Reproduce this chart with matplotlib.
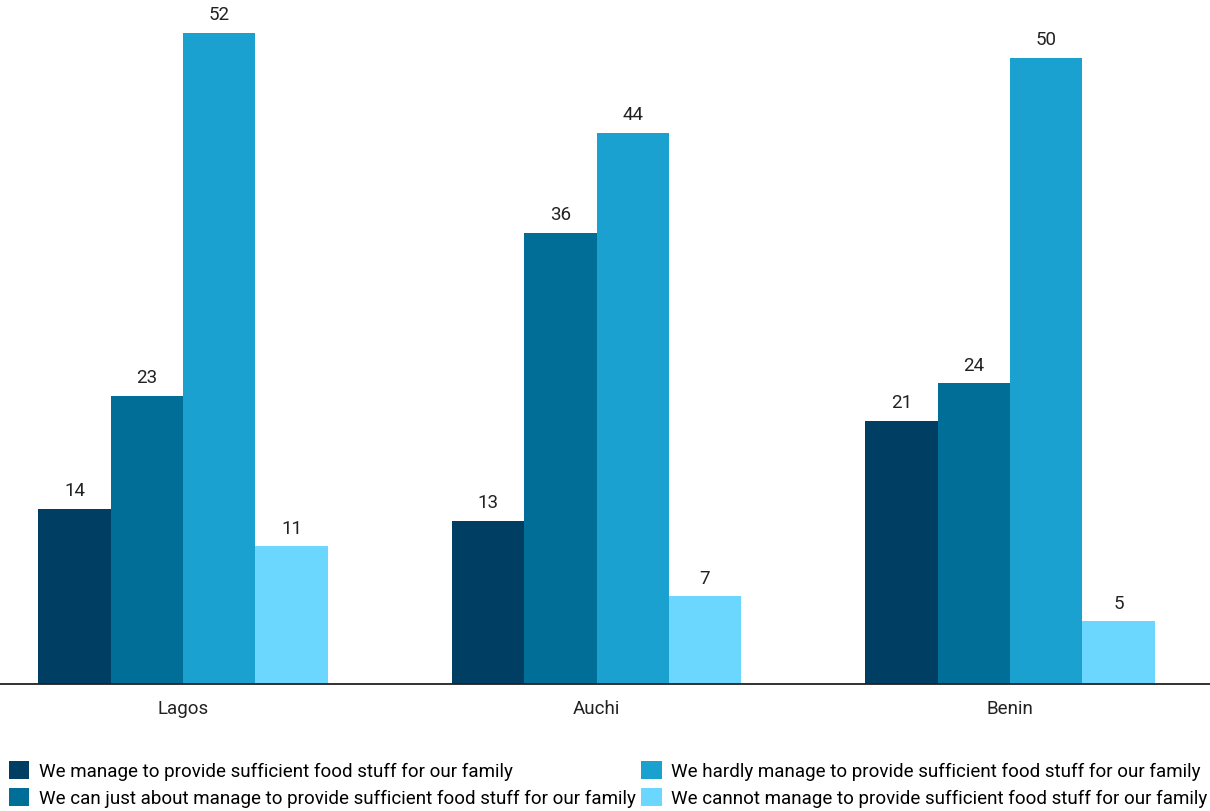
import numpy as np
from matplotlib import pyplot as plt

plt.rcParams['font.family'] = ['Roboto', 'DejaVu Sans']

cities = ['Lagos', 'Auchi', 'Benin']
series = [
    'We manage to provide sufficient food stuff for our family',
    'We can just about manage to provide sufficient food stuff for our family',
    'We hardly manage to provide sufficient food stuff for our family',
    'We cannot manage to provide sufficient food stuff for our family',
]
manage = [14, 13, 21]
just_about = [23, 36, 24]
hardly = [52, 44, 50]
cannot = [11, 7, 5]
colors = ['#003f63', '#006e97', '#1aa1cf', '#6bd6fe']

fig = plt.figure(figsize=(12.1, 8.12), dpi=100)
ax = fig.add_axes([0, 0.1564, 1, 0.8436])

x = np.arange(len(cities))
w = 0.175
values = [manage, just_about, hardly, cannot]
for i, (vals, name, c) in enumerate(zip(values, series, colors)):
    bars = ax.bar(x + (i - 1.5) * w, vals, w, color=c, label=name)
    ax.bar_label(bars, padding=7, fontsize=13.5, color='#222222')

ax.set_xlim(-0.4426, 2.4837)
ax.set_ylim(0, 54.7)
ax.set_xticks(x)
ax.set_xticklabels(cities, fontsize=13.5, color='#222222')
ax.tick_params(axis='x', length=0, pad=11)
ax.set_yticks([])
for s in ['top', 'left', 'right']:
    ax.spines[s].set_visible(False)
ax.spines['bottom'].set_linewidth(1.3)
ax.spines['bottom'].set_color('#222222')

fig.legend(loc='lower left', bbox_to_anchor=(0.004, 0.0), ncol=2, frameon=False,
           fontsize=13.5, handlelength=1.1, handleheight=1.1, handletextpad=0.5,
           labelspacing=0.4, columnspacing=0.3, borderaxespad=0, borderpad=0.2)

fig.savefig('out.png', dpi=100)
